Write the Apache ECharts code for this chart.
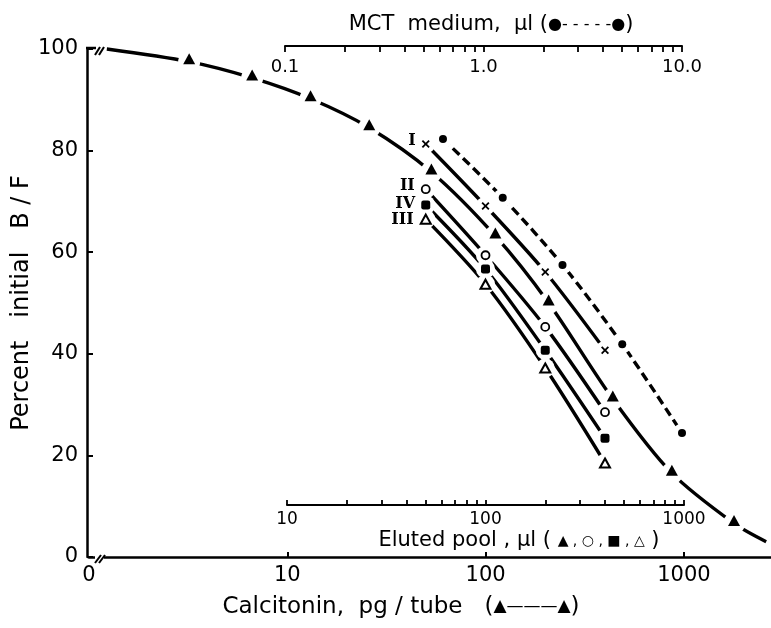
<!DOCTYPE html>
<html><head><meta charset="utf-8">
<script src="https://cdn.jsdelivr.net/npm/echarts@6/dist/echarts.min.js"></script>
<style>html,body{margin:0;padding:0;background:#fff}#c{width:771px;height:628px}</style>
</head><body><div id="c"></div>
<script>
// ---- Calcitonin standard curve (bottom axis, pg/tube) ----
const calcDose = [3.2, 6.65, 13.1, 25.9, 53.3, 112, 208, 438, 870, 1790];
const calcPct  = [97.5, 94.3, 90.2, 84.5, 75.8, 63.2, 50.0, 31.1, 16.5, 6.6];
const calcStart = [1.23, 100];
const calcEnd   = [2600, 3.0];
// ---- Eluted pools (inner axis, µl) ----
const poolVol = [50, 100, 200, 400];
const poolI   = [81.3, 69.1, 56.1, 40.7];
const poolII  = [72.4, 59.4, 45.3, 28.5];
const poolIV  = [69.3, 56.7, 40.7, 23.4];
const poolIII = [66.5, 53.7, 37.2, 18.5];
// ---- MCT medium (top axis, µl) ----
const mctVol = [0.625, 1.25, 2.5, 5, 10];
const mctPct = [82.3, 70.7, 57.5, 41.9, 24.4];
// ---- Tick labels ----
const mainXLabels = [1, 10, 100, 1000];   // 1 is printed as "0" (broken axis)
const mainXTicks  = [10, 100, 1000];
const mctLabels   = [0.1, 1, 10];
const poolLabels  = [10, 100, 1000];

function decadeTicks(a, b) {
  const out = [];
  for (let d = a; d < b * 0.999; d *= 10) for (let k = 1; k < 10; k++) out.push(+(d * k).toPrecision(6));
  out.push(b);
  return out;
}
const FONT = 'DejaVu Sans';
const zip = (xs, ys) => xs.map((x, i) => [x, ys[i]]);

const chart = echarts.init(document.getElementById('c'), null, {renderer: 'canvas'});

function plainLine(name, data, xi, lineType) {
  return {
    type: 'line', name, xAxisIndex: xi, yAxisIndex: xi, data,
    smooth: 0.3, clip: false, z: 2, symbol: 'none', showSymbol: false,
    lineStyle: {color: '#000', width: 3.4, type: lineType || 'solid'},
    emphasis: {disabled: true}, silent: true
  };
}
function halo(name, data, xi, size) {
  return {
    type: 'scatter', name, xAxisIndex: xi, yAxisIndex: xi, data, clip: false, z: 3,
    symbol: 'circle', symbolSize: size, itemStyle: {color: '#fff', opacity: 1},
    emphasis: {disabled: true}, silent: true
  };
}
function markers(name, data, xi, sym, size, style, label, loff) {
  const d = data.map((p, i) => {
    const o = {value: p};
    if (i === 0 && label) o.label = {
      show: true, formatter: label, position: 'left', distance: 6, offset: loff || [0, 0],
      fontFamily: 'DejaVu Serif', fontWeight: 'bold', fontSize: 16, color: '#000'
    };
    return o;
  });
  return {
    type: 'scatter', name, xAxisIndex: xi, yAxisIndex: xi, data: d, clip: false, z: 5,
    symbol: sym, symbolSize: size, itemStyle: Object.assign({opacity: 1}, style),
    emphasis: {disabled: true}, silent: true
  };
}
const CROSS = 'path://M0,1.6L1.6,0L5,3.4L8.4,0L10,1.6L6.6,5L10,8.4L8.4,10L5,6.6L1.6,10L0,8.4L3.4,5Z';

const calcPts = zip(calcDose, calcPct);
const calcLineData = [calcStart].concat(calcPts).concat([calcEnd]);

const option = {
  animation: false,
  backgroundColor: '#fff',
  grid: [
    {left: 89, top: 49, width: 682, height: 508},
    {left: 285, top: 49, width: 397, height: 508},
    {left: 287, top: 49, width: 397, height: 508}
  ],
  xAxis: [
    {gridIndex: 0, type: 'log', logBase: 10, min: 1, max: 2750,
     axisLine: {onZero: false, lineStyle: {color: '#000', width: 2.5}},
     axisTick: {inside: true, length: 5, lineStyle: {color: '#000', width: 2}, customValues: mainXTicks},
     axisLabel: {customValues: mainXLabels, margin: 8, fontSize: 21, fontFamily: FONT, color: '#000',
       formatter: v => (Math.round(v) === 1 ? '0' : String(Math.round(v)))},
     splitLine: {show: false}, minorTick: {show: false}},
    {gridIndex: 1, type: 'log', logBase: 10, min: 0.1, max: 10, position: 'top', offset: 3,
     axisLine: {onZero: false, lineStyle: {color: '#000', width: 2}},
     axisTick: {inside: true, length: 6, lineStyle: {color: '#000', width: 1.8}, customValues: decadeTicks(0.1, 10)},
     axisLabel: {inside: true, customValues: mctLabels, margin: 12, fontSize: 18, fontFamily: FONT, color: '#000',
       formatter: v => Number(v).toFixed(1)},
     splitLine: {show: false}},
    {gridIndex: 2, type: 'log', logBase: 10, min: 10, max: 1000, position: 'bottom', offset: -52,
     axisLine: {onZero: false, lineStyle: {color: '#000', width: 2}},
     axisTick: {inside: true, length: 5, lineStyle: {color: '#000', width: 1.8}, customValues: decadeTicks(10, 1000)},
     axisLabel: {customValues: poolLabels, margin: 6, fontSize: 17, fontFamily: FONT, color: '#000',
       formatter: v => String(Math.round(v))},
     splitLine: {show: false}}
  ],
  yAxis: [
    {gridIndex: 0, type: 'value', min: 0, max: 100, interval: 20, offset: 2,
     axisLine: {show: true, onZero: false, lineStyle: {color: '#000', width: 2.5}},
     axisTick: {show: true, inside: true, length: 6, lineStyle: {color: '#000', width: 2}},
     axisLabel: {margin: 9, fontSize: 21, fontFamily: FONT, color: '#000'},
     splitLine: {show: false}},
    {gridIndex: 1, type: 'value', min: 0, max: 100, show: false},
    {gridIndex: 2, type: 'value', min: 0, max: 100, show: false}
  ],
  series: [
    plainLine('Calcitonin', calcLineData, 0),
    plainLine('MCT medium', zip(mctVol, mctPct), 1, [9, 5]),
    plainLine('I', zip(poolVol, poolI), 2),
    plainLine('II', zip(poolVol, poolII), 2),
    plainLine('IV', zip(poolVol, poolIV), 2),
    plainLine('III', zip(poolVol, poolIII), 2),
    halo('Calcitonin gap', calcPts, 0, 22),
    halo('MCT gap', zip(mctVol, mctPct), 1, 19),
    halo('I gap', zip(poolVol, poolI), 2, 19),
    halo('II gap', zip(poolVol, poolII), 2, 19),
    halo('IV gap', zip(poolVol, poolIV), 2, 19),
    halo('III gap', zip(poolVol, poolIII), 2, 19),
    Object.assign(markers('Calcitonin pts', calcPts, 0, 'triangle', [12, 11], {color: '#000'}), {symbolOffset: [0, -3]}),
    markers('MCT pts', zip(mctVol, mctPct), 1, 'circle', 8, {color: '#000'}),
    markers('I pts', zip(poolVol, poolI), 2, CROSS, 8, {color: '#000'}, 'I', [0, -3]),
    markers('II pts', zip(poolVol, poolII), 2, 'circle', 8, {color: '#fff', borderColor: '#000', borderWidth: 1.8}, 'II', [0, -3]),
    markers('IV pts', zip(poolVol, poolIV), 2, 'roundRect', 9, {color: '#000'}, 'IV', [0, -1]),
    markers('III pts', zip(poolVol, poolIII), 2, 'triangle', [10, 9], {color: '#fff', borderColor: '#000', borderWidth: 2}, 'III', [0, 1])
  ],
  graphic: [
    // axis-break decorations
    {type: 'line', shape: {x1: 86, y1: 48, x2: 96, y2: 48}, style: {stroke: '#000', lineWidth: 2.5}, z: 10},
    {type: 'line', shape: {x1: 95, y1: 55, x2: 100, y2: 47}, style: {stroke: '#000', lineWidth: 2}, z: 10},
    {type: 'line', shape: {x1: 99, y1: 55, x2: 104, y2: 47}, style: {stroke: '#000', lineWidth: 2}, z: 10},
    {type: 'rect', shape: {x: 95, y: 552, width: 9, height: 10}, style: {fill: '#fff'}, z: 10},
    {type: 'line', shape: {x1: 95, y1: 563, x2: 101, y2: 555}, style: {stroke: '#000', lineWidth: 2}, z: 11},
    {type: 'line', shape: {x1: 99, y1: 563, x2: 105, y2: 555}, style: {stroke: '#000', lineWidth: 2}, z: 11},
    // titles
    {type: 'text', x: 491, y: 25, z: 10, style: {text: 'MCT  medium,  μl ({s|●- - - - -●})', rich: {s: {fontSize: 16, fontFamily: FONT}},
      font: '21px "DejaVu Sans"', fill: '#000', textAlign: 'center', textVerticalAlign: 'middle', align: 'center', verticalAlign: 'middle'}},
    {type: 'text', x: 519, y: 541, z: 10, style: {text: 'Eluted pool , μl ( {s|▲ , ○ , ■ , △} )', rich: {s: {fontSize: 14, fontFamily: FONT}},
      font: '21px "DejaVu Sans"', fill: '#000', textAlign: 'center', textVerticalAlign: 'middle', align: 'center', verticalAlign: 'middle'}},
    {type: 'text', x: 401, y: 607, z: 10, style: {text: 'Calcitonin,  pg / tube   ({s|▲———▲})', rich: {s: {fontSize: 17, fontFamily: FONT}},
      font: '23px "DejaVu Sans"', fill: '#000', textAlign: 'center', textVerticalAlign: 'middle', align: 'center', verticalAlign: 'middle'}},
    {type: 'text', x: 22, y: 303, rotation: Math.PI / 2, z: 10, style: {text: 'Percent   initial   B / F',
      font: '24px "DejaVu Sans"', fill: '#000', textAlign: 'center', textVerticalAlign: 'middle', align: 'center', verticalAlign: 'middle'}}
  ]
};
chart.setOption(option);
</script></body></html>
